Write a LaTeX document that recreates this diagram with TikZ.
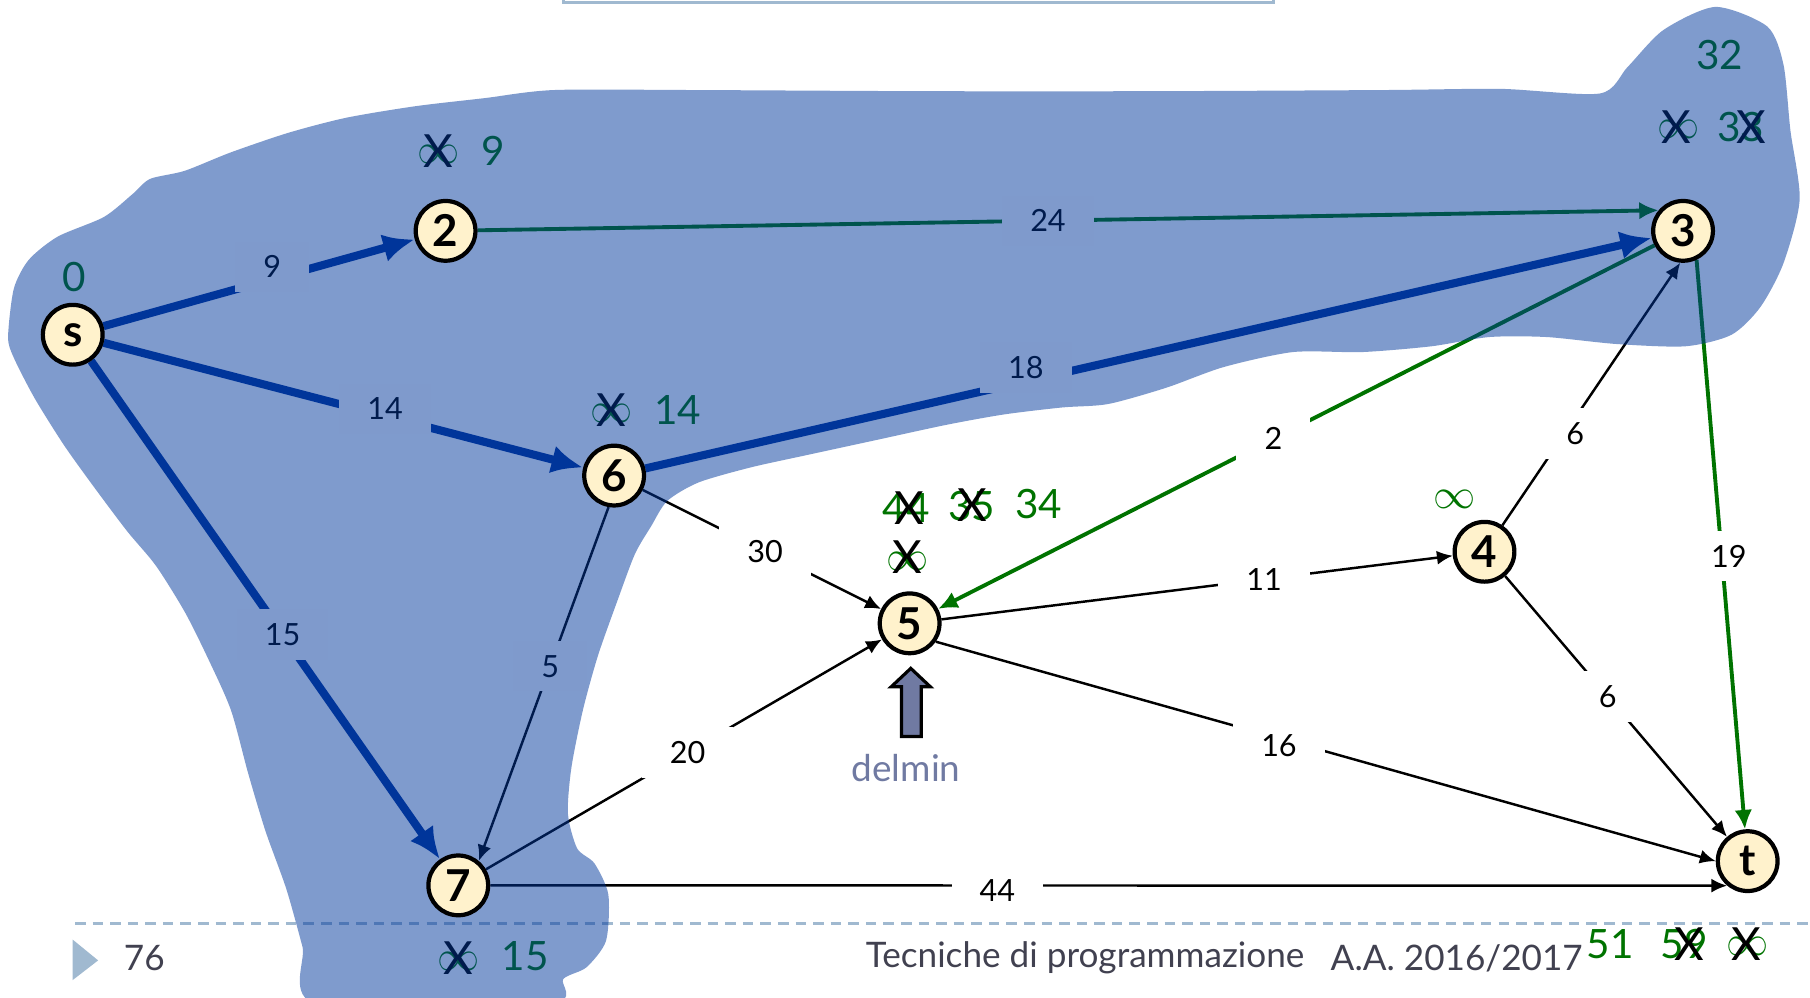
\documentclass[tikz,border=0pt]{standalone}
\usepackage{fontspec}
\setmainfont{Lato}
\usetikzlibrary{arrows.meta}
\definecolor{blueE}{RGB}{0,51,153}
\definecolor{greenE}{RGB}{0,115,0}
\definecolor{blobC}{RGB}{0,55,155}
\definecolor{cream}{RGB}{255,242,204}
\definecolor{barC}{RGB}{160,185,208}
\definecolor{footC}{RGB}{65,65,80}
\definecolor{slate}{RGB}{112,122,162}
\pgfdeclarelayer{edgelayer}
\pgfdeclarelayer{bloblayer}
\pgfsetlayers{edgelayer,bloblayer,main}
\begin{document}
\begin{tikzpicture}[x=0.11543mm,y=-0.11543mm,
  vtx/.style={circle,draw=black,line width=1.2pt,fill=cream,minimum size=17pt,inner sep=0pt,
    font=\fontsize{12.5}{12.5}\selectfont\bfseries},
  blueedge/.style={draw=blueE,line width=2.3pt,-{Latex[length=9pt,width=8pt]}},
  greenedge/.style={draw=greenE,line width=1.1pt,-{Latex[length=5.5pt,width=5pt]}},
  blackedge/.style={draw=black,line width=0.7pt,-{Latex[length=4.5pt,width=4pt]}},
  elabel/.style={fill=white,inner xsep=8pt,inner ysep=4pt,text=black,font=\fontsize{8.7}{8.7}\selectfont},
  ann/.style={text=greenE,inner sep=0pt,font=\fontsize{11.5}{11.5}\selectfont},
  inf/.style={text=greenE,inner sep=0pt,font=\fontsize{12.5}{12.5}\selectfont},
  xmark/.style={text=black,inner sep=0pt,font=\fontsize{13}{13}\selectfont},
  foot/.style={text=footC,inner sep=0pt,font=\fontsize{10}{10}\selectfont}]
\useasboundingbox (0,0) rectangle (1568,864);

% title bar remnant and footer
\draw[barC,line width=1pt] (488,-10) rectangle (1103,2);
\fill[barC] (63,814) -- (85,832) -- (63,849) -- cycle;
\node[foot] (pg) at (125,830) {76};
\node[foot] (ft1) at (940,830) {Tecniche di programmazione};
\node[foot] (ft2) at (1262,830) {A.A. 2016/2017};

% vertices
\node[vtx] (s) at (63,290) {s};
\node[vtx] (n2) at (386,200) {2};
\node[vtx] (n3) at (1458,200) {3};
\node[vtx] (n6) at (532,412) {6};
\node[vtx] (n5) at (788,540) {5};
\node[vtx] (n4) at (1286,478) {4};
\node[vtx] (n7) at (397,767) {7};
\node[vtx] (t) at (1514,746) {t};

\begin{pgfonlayer}{edgelayer}
\draw[barC,line width=0.6pt,dash pattern=on 3pt off 2pt] (65,800) -- (1568,800);
% edges
\draw[blueedge] (s) -- node[elabel,pos=.542,yshift=3.5pt] (l9) {9} (n2);
\draw[blueedge] (s) -- node[elabel,pos=.587,yshift=2pt] (l14) {14} (n6);
\draw[blueedge] (s) -- node[elabel,pos=.549] (l15) {15} (n7);
\draw[blueedge] (n6) -- node[elabel,pos=.378,yshift=4pt] (l18) {18} (n3);
\draw[greenedge] (n2) -- node[elabel,pos=.483] (l24) {24} (n3.140);
\draw[greenedge] (n3) -- node[elabel,pos=.532] (l2) {2} (n5);
\draw[greenedge] (n3.295) -- node[elabel,pos=.52,xshift=2pt] (l19) {19} (t);
\draw[blackedge] (n6) -- node[elabel,pos=.514] (l30) {30} (n5);
\draw[blackedge] (n6.260) -- node[elabel,pos=.45] (l5) {5} (n7.50);
\draw[blackedge] (n7) -- node[elabel,pos=.509] (l20) {20} (n5);
\draw[blackedge] (n5) -- node[elabel,pos=.631] (l11) {11} (n4);
\draw[blackedge] (n4) -- node[elabel,pos=.35,xshift=3pt] (l6a) {6} (n3.265);
\draw[blackedge] (n5.325) -- node[elabel,pos=.44,yshift=-2pt] (l16) {16} (t.180);
\draw[blackedge] (n4) -- node[elabel,pos=.462] (l6b) {6} (t);
\draw[blackedge] (n7) -- node[elabel,pos=.41,yshift=-1.5pt] (l44) {44} (t.230);

% distance annotations
\node[ann] (d0) at (64,240) {0};
\node[inf] (i2) at (380,134) {$\infty$};
\node[xmark] (x2) at (380,131) {X};
\node[ann] (d2) at (427,131) {9};
\node[inf] (i6) at (530,358) {$\infty$};
\node[xmark] (x6) at (530,355) {X};
\node[ann] (d6) at (587,355) {14};
\node[ann] (d3b) at (1490,48) {32};
\node[inf] (i3) at (1454,112) {$\infty$};
\node[xmark] (x3) at (1452,110) {X};
\node[ann] (d3a) at (1508,110) {33};
\node[xmark] (x3a) at (1517,110) {X};
\node[ann] (d5a) at (785,440) {44};
\node[xmark] (x5a) at (788,440) {X};
\node[ann] (d5b) at (842,438) {35};
\node[xmark] (x5b) at (842,438) {X};
\node[ann] (d5c) at (900,437) {34};
\node[inf] (i5) at (786,486) {$\infty$};
\node[xmark] (x5) at (786,483) {X};
\node[inf] (i4) at (1260,433) {$\infty$};
\node[inf] (i7) at (397,833) {$\infty$};
\node[xmark] (x7) at (397,830) {X};
\node[ann] (d7) at (455,828) {15};
\node[ann] (dta) at (1395,818) {51};
\node[ann] (dtb) at (1459,818) {59};
\node[xmark] (xtb) at (1463,818) {X};
\node[inf] (it) at (1514,820) {$\infty$};
\node[xmark] (xt) at (1513,818) {X};
\end{pgfonlayer}

% cut set region
\begin{pgfonlayer}{bloblayer}
\fill[blobC,fill opacity=0.5] plot[smooth cycle,tension=0.45] coordinates {
(7,292) (12,250) (25,225) (50,205) (90,188) (115,168) (130,155) (160,148) (200,132)
(250,115) (300,102) (360,92) (420,85) (480,78) (600,78) (800,79) (1000,79) (1200,78)
(1300,77) (1386,81) (1410,58) (1441,26) (1486,6) (1531,23) (1545,56) (1551,113)
(1559,173) (1545,228) (1525,266) (1500,290) (1460,300) (1400,298) (1340,292) (1290,292)
(1240,300) (1180,305) (1120,305) (1060,318) (1010,336) (960,350) (920,353) (870,359)
(820,368) (760,381) (700,394) (650,405) (605,418) (578,434) (564,456) (550,480)
(535,520) (518,568) (505,615) (495,665) (492,705) (500,735) (515,748) (527,775)
(525,815) (508,838) (488,848) (476,870) (275,870) (262,820) (248,770) (230,720)
(215,670) (200,615) (180,570) (160,530) (135,490) (110,460) (80,420) (55,385)
(30,345) (12,310)};
\end{pgfonlayer}

% delmin pointer
\draw[fill=slate,draw=black,line width=0.9pt] (781,638) -- (781,595) -- (772,595) -- (789,579)
  -- (806,595) -- (798,595) -- (798,638) -- cycle;
\node[text=slate,inner sep=0pt,font=\fontsize{10.5}{10.5}\selectfont] (dm) at (785,665) {delmin};
\end{tikzpicture}
\end{document}
